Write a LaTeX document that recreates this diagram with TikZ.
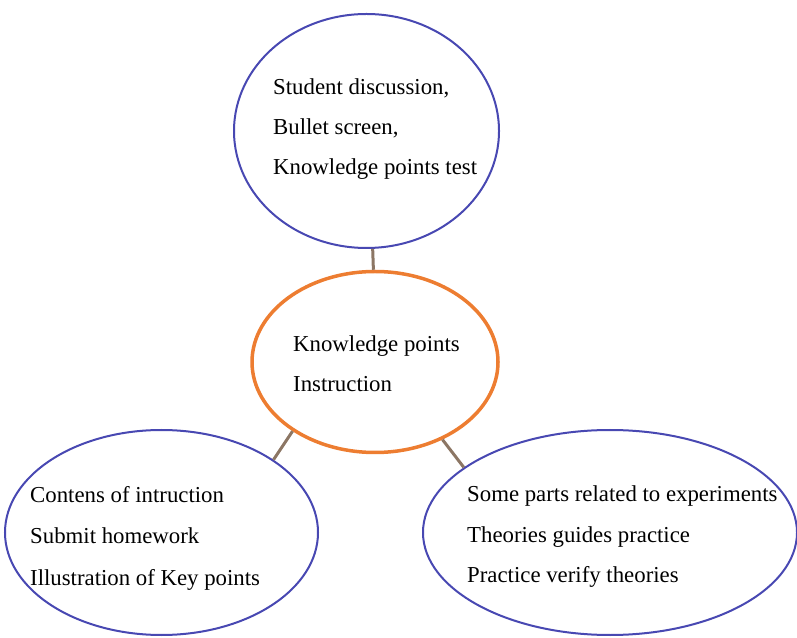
\documentclass[tikz,border=0pt]{standalone}
\usepackage{fontspec}
\setmainfont{Liberation Serif}
\usetikzlibrary{shapes.geometric}
\definecolor{ringblue}{RGB}{72,72,178}
\definecolor{ringorange}{RGB}{237,125,49}
\definecolor{linkbrown}{RGB}{140,118,100}
\tikzset{
  bubble/.style={ellipse, draw=ringblue, line width=2pt, inner sep=0pt},
  hub/.style={ellipse, draw=ringorange, line width=3.5pt, inner sep=0pt},
  link/.style={draw=linkbrown, line width=3pt},
  txt/.style={anchor=base west, inner sep=0pt, font=\fontsize{22.8}{27}\selectfont}
}
\begin{document}
\begin{tikzpicture}[x=1pt,y=1pt]
  \useasboundingbox (0,0) rectangle (797,637);
  % rings
  \node[bubble, minimum width=265pt, minimum height=234pt] (top) at (366.5,506) {};
  \node[hub, minimum width=246pt, minimum height=181pt] (mid) at (375,275) {};
  \node[bubble, minimum width=313pt, minimum height=205pt] (left) at (161.5,104.5) {};
  \node[bubble, minimum width=374pt, minimum height=205pt] (right) at (610,104.5) {};
  % connectors
  \draw[link] (top.-87.3) -- (mid.91.9);
  \draw[link] (mid.220) -- (left.33);
  \draw[link] (mid.-49.5) -- (right.156.6);
  % labels
  \node[txt] (t1) at (273,542) {Student discussion,};
  \node[txt] (t2) at (273,502) {Bullet screen,};
  \node[txt] (t3) at (273,462) {Knowledge points test};
  \node[txt] (m1) at (293,285) {Knowledge points};
  \node[txt] (m2) at (293,245) {Instruction};
  \node[txt] (l1) at (30,134) {Contens of intruction};
  \node[txt] (l2) at (30,94) {Submit homework};
  \node[txt] (l3) at (30,52) {Illustration of Key points};
  \node[txt] (r1) at (467,135) {Some parts related to experiments};
  \node[txt] (r2) at (467,95) {Theories guides practice};
  \node[txt] (r3) at (467,55) {Practice verify theories};
\end{tikzpicture}
\end{document}
